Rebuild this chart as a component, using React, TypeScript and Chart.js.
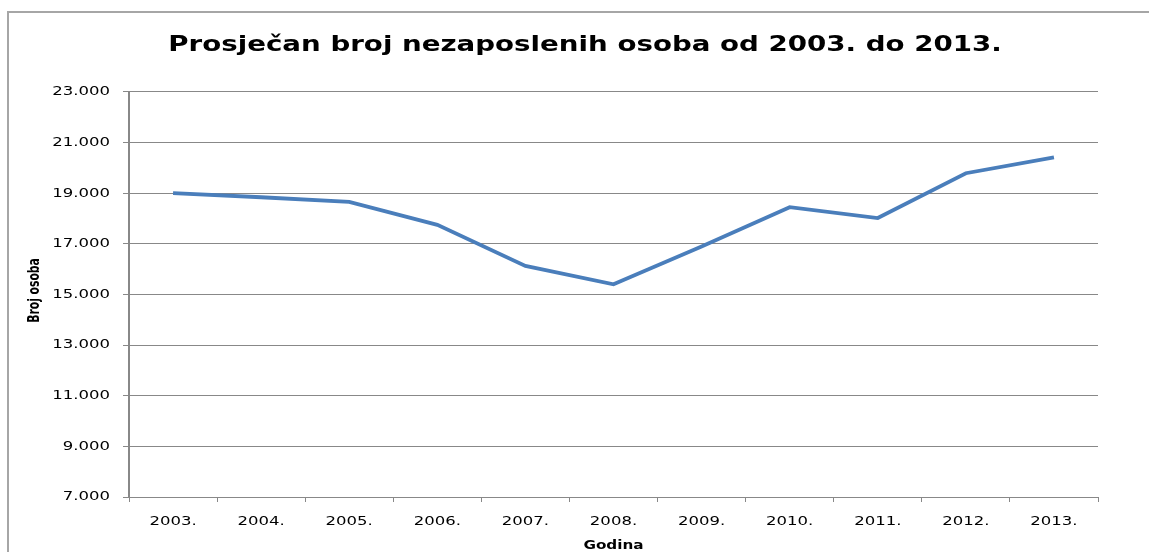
import React, { useEffect, useRef } from "react";
import { Chart, registerables } from "chart.js";

Chart.register(...registerables);

const categories = ["2003.", "2004.", "2005.", "2006.", "2007.", "2008.", "2009.", "2010.", "2011.", "2012.", "2013."];
const unemployed = [19000, 18840, 18660, 17750, 16130, 15400, 16900, 18450, 18020, 19790, 20420];
const yMin = 7000;
const yMax = 23000;
const yStep = 2000;

const titleText = "Prosječan broj nezaposlenih osoba od 2003. do 2013.";
const xTitle = "Godina";
const yTitle = "Broj osoba";

const TEXT_STRETCH = 1.27;

function formatThousands(v: number): string {
  const s = Math.round(v).toString();
  return s.replace(/\B(?=(\d{3})+(?!\d))/g, ".");
}

// Reference text is horizontally widened; widen glyphs around their anchor point.
const stretchPlugin = {
  id: "stretchText",
  afterLayout(chart: any) {
    const tb = chart.titleBlock;
    if (tb) tb.left = 72;
  },
  beforeDraw(chart: any) {
    const ctx = chart.ctx as any;
    if (!ctx.__origFillText) {
      const orig = ctx.fillText.bind(ctx);
      ctx.__origFillText = orig;
      ctx.fillText = function (text: string, x: number, y: number, maxWidth?: number) {
        ctx.save();
        ctx.translate(x, y);
        ctx.scale(TEXT_STRETCH, 1);
        if (maxWidth === undefined) orig(text, 0, 0);
        else orig(text, 0, 0, maxWidth / TEXT_STRETCH);
        ctx.restore();
      };
    }
  },
  afterDraw(chart: any) {
    const ctx = chart.ctx as any;
    const yScale = chart.scales.y;
    ctx.save();
    ctx.translate(35, (yScale.top + yScale.bottom) / 2 - 4);
    ctx.rotate(-Math.PI / 2);
    ctx.scale(1, TEXT_STRETCH);
    ctx.font = "bold 12px 'DejaVu Sans Condensed', 'Liberation Sans Narrow', 'DejaVu Sans', sans-serif";
    ctx.textAlign = "center";
    ctx.textBaseline = "middle";
    ctx.fillStyle = "#000";
    (ctx.__origFillText || ctx.fillText.bind(ctx))(yTitle, 0, 0);
    ctx.restore();
  },
};

export default function App() {
  const ref = useRef<HTMLCanvasElement | null>(null);

  useEffect(() => {
    if (!ref.current) return;
    const gridColor = "#888888";
    const chart = new Chart(ref.current, {
      type: "line",
      data: {
        labels: categories,
        datasets: [
          {
            label: yTitle,
            data: unemployed,
            borderColor: "#4a7ebb",
            borderWidth: 3.8,
            pointRadius: 0,
            tension: 0,
            fill: false,
          },
        ],
      },
      plugins: [stretchPlugin],
      options: {
        animation: false,
        responsive: false,
        maintainAspectRatio: false,
        layout: { padding: { left: 0, right: 51, top: 0, bottom: 0 } },
        plugins: {
          legend: { display: false },
          tooltip: { enabled: false },
          title: {
            display: true,
            text: titleText,
            color: "#000",
            font: { family: "'DejaVu Sans'", size: 21.8, weight: "bold", lineHeight: 1.2 },
            padding: { top: 32, bottom: 33.8 },
          },
        },
        scales: {
          x: {
            type: "category",
            offset: true,
            afterFit: (s: any) => {
              s.height = 55;
            },
            grid: {
              display: true,
              drawOnChartArea: false,
              drawTicks: true,
              tickLength: 5,
              color: gridColor,
              offset: true,
            },
            border: { display: true, color: gridColor, width: 1 },
            ticks: {
              color: "#000",
              font: { family: "'DejaVu Sans'", size: 13 },
              padding: 12,
              maxRotation: 0,
              autoSkip: false,
            },
            title: {
              display: true,
              text: xTitle,
              color: "#000",
              font: { family: "'DejaVu Sans'", size: 12, weight: "bold", lineHeight: 1.2 },
              padding: { top: 0, bottom: -1 },
            },
          },
          y: {
            type: "linear",
            min: yMin,
            max: yMax,
            afterFit: (s: any) => {
              s.width = 129;
            },
            grid: {
              color: gridColor,
              tickLength: 6,
              drawTicks: true,
            },
            border: { display: true, color: gridColor, width: 2 },
            ticks: {
              stepSize: yStep,
              color: "#000",
              font: { family: "'DejaVu Sans'", size: 13 },
              padding: 13,
              callback: (v: any) => formatThousands(Number(v)),
            },
            title: { display: false, text: yTitle },
          },
        },
      },
    });
    return () => chart.destroy();
  }, []);

  return (
    <div style={{ position: "fixed", left: 0, top: 0, width: 1149, height: 552, overflow: "hidden", background: "#fff" }}>
      <canvas ref={ref} width={1149} height={552} style={{ position: "absolute", left: 0, top: 0, width: 1149, height: 552 }} />
      <div
        style={{
          position: "absolute",
          left: 7,
          top: 11,
          width: 1200,
          height: 600,
          border: "2px solid #a6a6a6",
          pointerEvents: "none",
        }}
      />
    </div>
  );
}
